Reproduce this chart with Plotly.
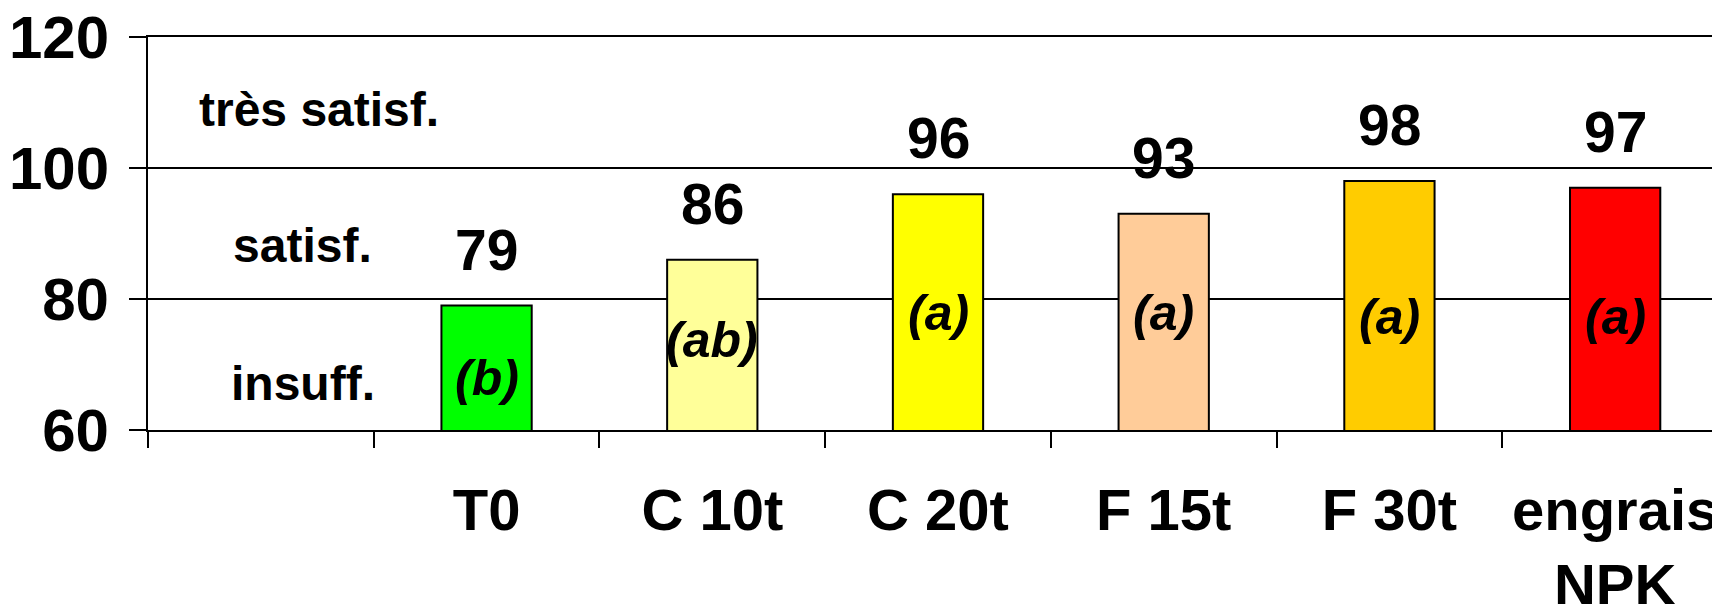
import plotly.graph_objects as go

# Data
treatments = ["T0", "C 10t", "C 20t", "F 15t", "F 30t", "engrais<br>NPK"]
scores = [79, 86, 96, 93, 98, 97]
groups = ["(b)", "(ab)", "(a)", "(a)", "(a)", "(a)"]
bar_colors = ["#00FF00", "#FFFF99", "#FFFF00", "#FFCC99", "#FFCC00", "#FF0000"]
band_labels = ["très satisf.", "satisf.", "insuff."]
y_ticks = [60, 80, 100, 120]

# placement of the text (style only)
band_x = [0.256, 0.185, 0.185]
band_y = [109, 88.1, 67.1]
group_y = [67.9, 73.7, 77.8, 77.9, 77.3, 77.3]

font_family = "Liberation Sans, Arial, sans-serif"
categories = [" "] + treatments

fig = go.Figure()

fig.add_trace(go.Bar(
    x=categories,
    y=[None] + scores,
    width=0.4,
    marker=dict(color=["#FFFFFF"] + bar_colors, line=dict(color="black", width=2)),
    showlegend=False,
    hoverinfo="skip",
))

annotations = []
for cat, val in zip(treatments, scores):
    annotations.append(dict(
        x=cat, y=val, xref="x", yref="y", text="<b>%d</b>" % val,
        showarrow=False, yanchor="middle", yshift=56,
        font=dict(family=font_family, size=57, color="black"),
    ))
for cat, g, gy in zip(treatments, groups, group_y):
    annotations.append(dict(
        x=cat, y=gy, xref="x", yref="y", text="<b><i>%s</i></b>" % g,
        showarrow=False, yanchor="middle",
        font=dict(family=font_family, size=50, color="black"),
    ))
for lab, bx, by in zip(band_labels, band_x, band_y):
    annotations.append(dict(
        x=bx, y=by, xref="x", yref="y", text="<b>%s</b>" % lab,
        showarrow=False, yanchor="middle",
        font=dict(family=font_family, size=48, color="black"),
    ))

fig.update_layout(
    width=1720,
    height=604,
    margin=dict(l=140, r=0, t=29, b=182),
    paper_bgcolor="white",
    plot_bgcolor="white",
    annotations=annotations,
    xaxis=dict(
        type="category",
        categoryorder="array",
        categoryarray=categories,
        range=[-0.5, 6.5],
        automargin=False,
        tickson="boundaries",
        ticks="outside",
        ticklen=16,
        tickwidth=2,
        tickcolor="black",
        showline=True,
        mirror=True,
        linecolor="black",
        linewidth=2,
        showgrid=False,
        ticklabelstandoff=28,
        ticklabeloverflow="allow",
        tickfont=dict(family=font_family, size=58, color="black", weight="bold"),
    ),
    yaxis=dict(
        range=[60, 120],
        tickvals=y_ticks,
        automargin=False,
        ticks="outside",
        ticklen=17,
        tickwidth=2,
        tickcolor="black",
        showline=True,
        linecolor="black",
        linewidth=2,
        showgrid=True,
        gridcolor="black",
        gridwidth=2,
        zeroline=False,
        ticklabelstandoff=8,
        ticklabeloverflow="allow",
        tickfont=dict(family=font_family, size=60, color="black", weight="bold"),
    ),
)

fig.write_html("out.html")
